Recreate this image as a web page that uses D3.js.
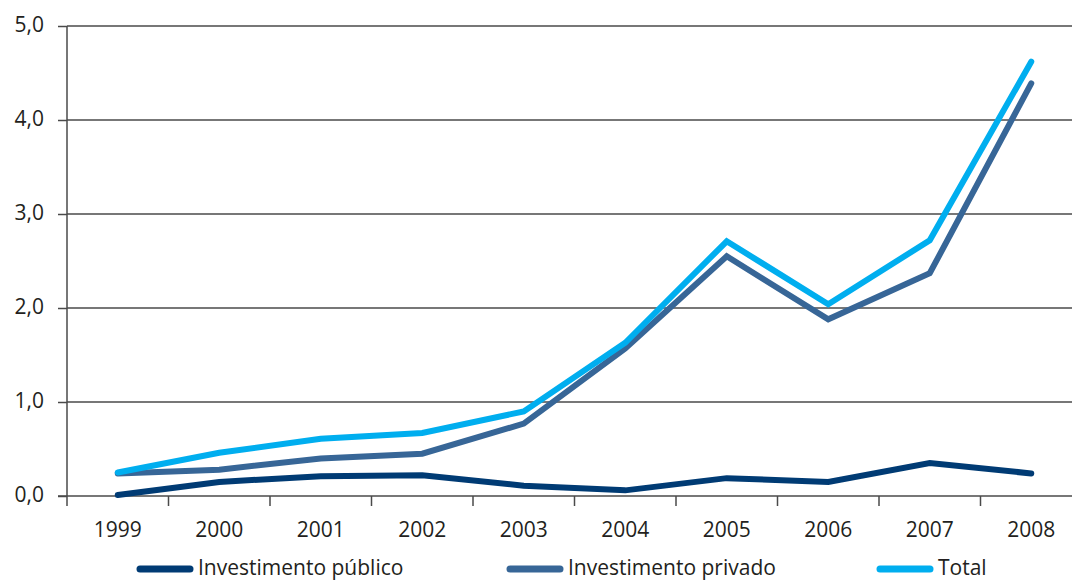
<!DOCTYPE html>
<html>
<head>
<meta charset="utf-8">
<script src="https://cdn.jsdelivr.net/npm/d3@7"></script>
<style>
  body { margin: 0; background: #fff; }
  text { font-family: "Open Sans", "Noto Sans", sans-serif; fill: #231f20; }
</style>
</head>
<body>
<div id="chart"></div>
<script>
var years = ["1999", "2000", "2001", "2002", "2003", "2004", "2005", "2006", "2007", "2008"];
var publico = [0.01, 0.15, 0.21, 0.22, 0.11, 0.06, 0.19, 0.15, 0.35, 0.24];
var privado = [0.24, 0.28, 0.40, 0.45, 0.77, 1.57, 2.55, 1.88, 2.37, 4.39];
var total = [0.25, 0.46, 0.61, 0.67, 0.90, 1.63, 2.71, 2.04, 2.72, 4.62];
var yTicks = [0, 1, 2, 3, 4, 5];

var series = [
  {name: "Investimento público", values: publico, color: "#003b74"},
  {name: "Investimento privado", values: privado, color: "#376697"},
  {name: "Total", values: total, color: "#00aeef"}
];

var W = 1072, H = 583;
var margin = {top: 26, left: 67, bottom: 87};
var fs = "21px";

var svg = d3.select("#chart").append("svg")
  .attr("width", W).attr("height", H);

var x = d3.scaleBand().domain(years).range([margin.left, 1082]);
var y = d3.scaleLinear().domain([0, 5]).range([H - margin.bottom, margin.top]);

// gridlines
svg.append("g").selectAll("line")
  .data(yTicks.slice(1))
  .enter().append("line")
    .attr("x1", margin.left).attr("x2", W)
    .attr("y1", d => y(d)).attr("y2", d => y(d))
    .style("stroke", "#4a4a4a").style("stroke-width", 1.5);

// y axis
var yAxis = svg.append("g")
  .attr("transform", "translate(" + margin.left + ",0)")
  .call(d3.axisLeft(y).tickValues(yTicks).tickSize(9).tickPadding(14)
    .tickFormat(d => d3.format(".1f")(d).replace(".", ",")));
yAxis.select(".domain").attr("d", "M0," + y(0) + "V" + y(5))
  .style("stroke", "#4a4a4a").style("stroke-width", 1.5);
yAxis.selectAll(".tick line").style("stroke", "#4a4a4a").style("stroke-width", 1.5);
yAxis.selectAll("text").style("font-size", fs).style("fill", "#231f20")
  .attr("dy", "0.25em");

// x axis, ticks on band edges
var xAxis = svg.append("g").attr("transform", "translate(0," + y(0) + ")");
xAxis.append("line").attr("x1", margin.left - 9).attr("x2", W)
  .style("stroke", "#4a4a4a").style("stroke-width", 1.5);
xAxis.selectAll(".edge").data(years).enter().append("line")
  .attr("x1", d => x(d)).attr("x2", d => x(d))
  .attr("y1", 0).attr("y2", 10)
  .style("stroke", "#4a4a4a").style("stroke-width", 1.5);
xAxis.selectAll(".lbl").data(years).enter().append("text")
  .attr("x", d => x(d) + x.bandwidth() / 2).attr("y", 41)
  .attr("text-anchor", "middle").style("font-size", fs)
  .text(d => d);

// lines
var line = d3.line()
  .x((d, i) => x(years[i]) + x.bandwidth() / 2)
  .y(d => y(d));

svg.append("g").selectAll("path")
  .data(series)
  .enter().append("path")
    .attr("d", d => line(d.values))
    .style("fill", "none")
    .style("stroke", d => d.color)
    .style("stroke-width", 6)
    .style("stroke-linejoin", "miter")
    .style("stroke-linecap", "round");

// legend
var legX = [140, 510, 880];
var leg = svg.append("g").selectAll("g").data(series).enter().append("g")
  .attr("transform", (d, i) => "translate(" + legX[i] + ",569)");
leg.append("line").attr("x1", 0).attr("x2", 50)
  .style("stroke", d => d.color).style("stroke-width", 7)
  .style("stroke-linecap", "round");
leg.append("text").attr("x", 58).attr("y", 6)
  .style("font-size", fs).text(d => d.name);
</script>
</body>
</html>
